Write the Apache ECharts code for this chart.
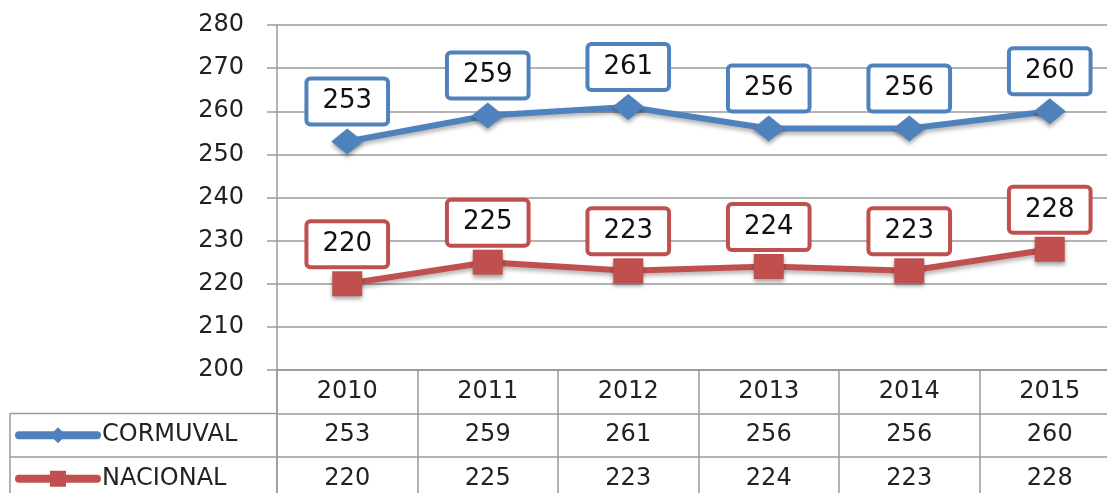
<!DOCTYPE html>
<html>
<head>
<meta charset="utf-8">
<title>CORMUVAL vs NACIONAL</title>
<script src="https://cdn.jsdelivr.net/npm/echarts@6/dist/echarts.min.js"></script>
<style>
	html, body { margin: 0; padding: 0; background: #fff; }
	#chart { width: 1107px; height: 493px; }
</style>
</head>
<body>
<div id="chart"></div>
<script>
	// datos
	const years = ['2010', '2011', '2012', '2013', '2014', '2015'];
	const cormuval = [253, 259, 261, 256, 256, 260];
	const nacional = [220, 225, 223, 224, 223, 228];
	const yTicks = { min: 200, max: 280, step: 10 };

	// layout
	const plotLeft = 277, plotTop = 25, plotW = 843, plotH = 345;
	const tableTop = plotTop + plotH, rowH = 43.5;
	const gridColor = '#9a9a9a';
	const font = 'DejaVu Sans';
	const blue = '#4F81BD', red = '#C0504D';

	function boxLabel(color) {
		return {
			show: true,
			position: 'top',
			distance: 6,
			backgroundColor: '#fff',
			borderColor: color,
			borderWidth: 4,
			borderRadius: 2,
			padding: [6, 14],
			lineHeight: 30,
			fontSize: 26,
			fontFamily: font,
			color: '#111'
		};
	}

	const chart = echarts.init(document.getElementById('chart'));
	chart.setOption({
		animation: false,
		grid: [
			{ left: plotLeft, top: plotTop, width: plotW, height: plotH, outerBoundsMode: 'none' },
			// tabla de datos debajo
			{ left: plotLeft, top: tableTop, width: plotW, height: rowH * 3, outerBoundsMode: 'none' }
		],
		legend: {
			data: ['CORMUVAL', 'NACIONAL'],
			orient: 'vertical',
			left: 10,
			top: tableTop + rowH * 1.5 - 17,
			height: 120,
			itemWidth: 78,
			itemHeight: 20,
			itemGap: rowH - 24,
			lineStyle: { width: 8, cap: 'round' },
			textStyle: { fontSize: 24, lineHeight: 24, fontFamily: font, color: '#222' }
		},
		xAxis: [
			{
				type: 'category',
				gridIndex: 0,
				data: years,
				axisLine: { lineStyle: { color: gridColor, width: 1.5 } },
				axisTick: { show: false },
				axisLabel: {
					margin: 0,
					fontSize: 24,
					lineHeight: rowH,
					fontFamily: font,
					color: '#222',
					// año + valores de cada serie
					formatter: (v, i) => v + '\n' + cormuval[i] + '\n' + nacional[i]
				}
			},
			{
				type: 'category',
				gridIndex: 1,
				data: years,
				axisLine: { show: false },
				axisTick: { show: false },
				axisLabel: { show: false },
				splitLine: { show: true, lineStyle: { color: gridColor, width: 1.5 } }
			}
		],
		yAxis: [
			{
				type: 'value',
				gridIndex: 0,
				min: yTicks.min,
				max: yTicks.max,
				interval: yTicks.step,
				axisLine: { show: true, lineStyle: { color: gridColor, width: 1.5 } },
				axisTick: { show: true, length: 10, lineStyle: { color: gridColor, width: 1.5 } },
				axisLabel: { margin: 33, fontSize: 24, fontFamily: font, color: '#222' },
				splitLine: { lineStyle: { color: gridColor, width: 1.5 } }
			},
			{
				type: 'category',
				gridIndex: 1,
				inverse: true,
				data: ['', 'CORMUVAL', 'NACIONAL'],
				axisLine: { show: true, lineStyle: { color: gridColor, width: 1.5 } },
				axisTick: { show: false },
				axisLabel: { show: false },
				splitLine: { show: true, lineStyle: { color: gridColor, width: 1.5 } }
			}
		],
		// bordes de la columna de leyenda
		graphic: [
			{ type: 'line', shape: { x1: 10, y1: tableTop + rowH, x2: plotLeft, y2: tableTop + rowH }, style: { stroke: gridColor, lineWidth: 1.5 } },
			{ type: 'line', shape: { x1: 10, y1: tableTop + rowH * 2, x2: plotLeft, y2: tableTop + rowH * 2 }, style: { stroke: gridColor, lineWidth: 1.5 } },
			{ type: 'line', shape: { x1: 10, y1: tableTop + rowH, x2: 10, y2: tableTop + rowH * 3 }, style: { stroke: gridColor, lineWidth: 1.5 } }
		],
		series: [
			{
				name: 'CORMUVAL',
				type: 'line',
				data: cormuval,
				symbol: 'diamond',
				symbolSize: [32, 26],
				lineStyle: { width: 6, color: blue, shadowBlur: 4, shadowColor: 'rgba(0,0,0,0.3)', shadowOffsetY: 3 },
				itemStyle: { color: blue, shadowBlur: 4, shadowColor: 'rgba(0,0,0,0.35)', shadowOffsetY: 3 },
				label: boxLabel(blue)
			},
			{
				name: 'NACIONAL',
				type: 'line',
				data: nacional,
				symbol: 'rect',
				symbolSize: [30, 25],
				lineStyle: { width: 6, color: red, shadowBlur: 4, shadowColor: 'rgba(0,0,0,0.3)', shadowOffsetY: 3 },
				itemStyle: { color: red, shadowBlur: 4, shadowColor: 'rgba(0,0,0,0.35)', shadowOffsetY: 3 },
				label: boxLabel(red)
			}
		]
	});
</script>
</body>
</html>
